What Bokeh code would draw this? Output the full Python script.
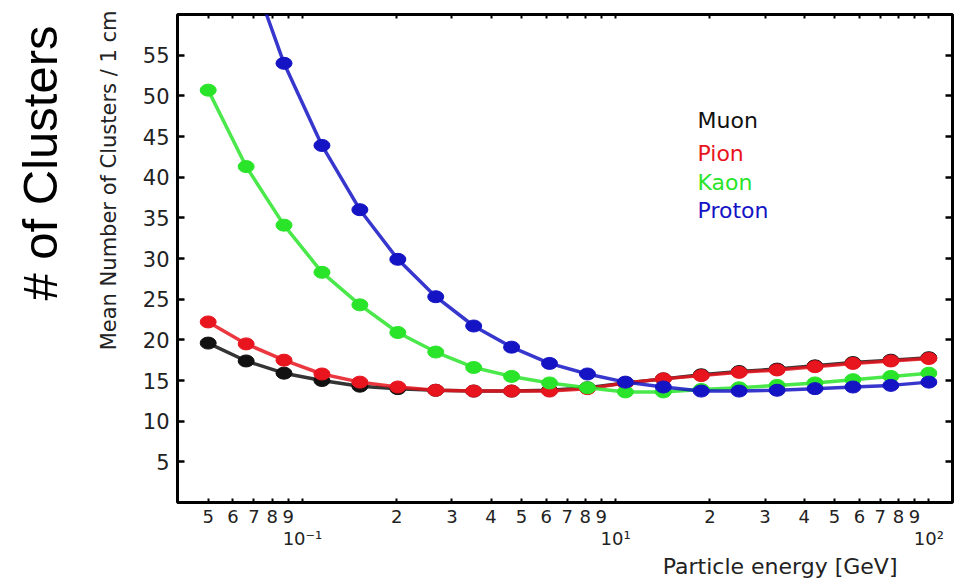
from bokeh.embed import file_html
from bokeh.models import FixedTicker, Label, LinearAxis, LogAxis, Title
from bokeh.plotting import figure
from bokeh.resources import INLINE

# Particle energy [GeV] sampled on an even log grid
energy = [0.05, 0.0661, 0.0873, 0.1154, 0.1525, 0.2016, 0.2664, 0.3521, 0.4653,
          0.6150, 0.8127, 1.074, 1.420, 1.876, 2.479, 3.277, 4.330, 5.723, 7.564, 10.0]

# Mean number of clusters per 1 cm for each particle species
muon = [19.6, 17.4, 15.9, 15.0, 14.3, 14.0, 13.8, 13.7, 13.7, 13.8,
        14.1, 14.7, 15.2, 15.7, 16.1, 16.4, 16.8, 17.2, 17.5, 17.8]
pion = [22.2, 19.5, 17.5, 15.8, 14.8, 14.2, 13.8, 13.7, 13.7, 13.7,
        14.0, 14.7, 15.2, 15.6, 16.0, 16.3, 16.7, 17.1, 17.4, 17.7]
kaon = [50.7, 41.3, 34.1, 28.3, 24.3, 20.9, 18.5, 16.6, 15.5, 14.7,
        14.1, 13.6, 13.6, 13.9, 14.1, 14.4, 14.7, 15.1, 15.5, 15.9]
proton = [86.0, 67.0, 54.0, 43.9, 36.0, 29.9, 25.3, 21.7, 19.1, 17.1,
          15.8, 14.8, 14.2, 13.7, 13.7, 13.8, 14.0, 14.2, 14.4, 14.8]

species = ["Muon", "Pion", "Kaon", "Proton"]
series = [muon, pion, kaon, proton]
colors = ["#111111", "#e8141e", "#2ae42a", "#1414c4"]

# Axis ticks and their printed labels
minor_ticks = [0.05, 0.06, 0.07, 0.08, 0.09,
               0.2, 0.3, 0.4, 0.5, 0.6, 0.7, 0.8, 0.9,
               2.0, 3.0, 4.0, 5.0, 6.0, 7.0, 8.0, 9.0]
minor_labels = ["5", "6", "7", "8", "9",
                "2", "3", "4", "5", "6", "7", "8", "9",
                "2", "3", "4", "5", "6", "7", "8", "9"]
decade_ticks = [0.1, 1.0, 10.0]
decade_labels = ["10\u207b\u00b9", "10\u00b9", "10\u00b2"]
y_ticks = [5, 10, 15, 20, 25, 30, 35, 40, 45, 50, 55]

FONT = "DejaVu Sans"
TEXT = "#222222"

p = figure(width=963, height=578, x_axis_type="log",
           x_range=(0.0399, 11.9), y_range=(0, 60),
           output_backend="svg", toolbar_location=None,
           min_border_left=177, min_border_right=11,
           min_border_top=14, min_border_bottom=74,
           x_axis_location=None, y_axis_location=None)
p.grid.visible = False
p.outline_line_color = "black"
p.outline_line_width = 3
p.background_fill_color = "white"
p.border_fill_color = "white"

all_ticks = sorted(minor_ticks + decade_ticks)

# Bottom axis, first row: digit labels for the in-decade ticks
bottom = LogAxis(ticker=FixedTicker(ticks=all_ticks, minor_ticks=[]))
overrides = {t: l for t, l in zip(minor_ticks, minor_labels)}
overrides.update({t: "" for t in decade_ticks})
bottom.major_label_overrides = overrides
bottom.major_tick_in = 4
bottom.major_tick_out = 0
bottom.major_tick_line_width = 2
bottom.major_label_standoff = 7
bottom.major_label_text_font = FONT
bottom.major_label_text_font_size = "18px"
bottom.major_label_text_color = TEXT
bottom.axis_line_color = None
p.add_layout(bottom, "below")

# Bottom axis, second row: decade labels
decades = LogAxis(ticker=FixedTicker(ticks=decade_ticks, minor_ticks=[]))
decades.major_label_overrides = {t: l for t, l in zip(decade_ticks, decade_labels)}
decades.major_tick_in = 0
decades.major_tick_out = 0
decades.major_label_standoff = 2
decades.major_label_text_font = FONT
decades.major_label_text_font_size = "18px"
decades.major_label_text_color = TEXT
decades.axis_line_color = None
p.add_layout(decades, "below")

# Mirrored ticks on top (no labels)
top = LogAxis(ticker=FixedTicker(ticks=all_ticks, minor_ticks=[]))
top.major_label_overrides = {t: "" for t in all_ticks}
top.major_tick_in = 4
top.major_tick_out = 0
top.major_tick_line_width = 2
top.major_label_standoff = 0
top.axis_line_color = None
p.add_layout(top, "above")

# Left value axis
left = LinearAxis(ticker=FixedTicker(ticks=y_ticks, minor_ticks=[]))
left.major_tick_in = 7
left.major_tick_out = 0
left.major_tick_line_width = 2.5
left.major_label_standoff = 8
left.major_label_text_font = FONT
left.major_label_text_font_size = "21px"
left.major_label_text_color = TEXT
left.axis_line_color = None
p.add_layout(left, "left")

# Mirrored ticks on the right (no labels)
right = LinearAxis(ticker=FixedTicker(ticks=y_ticks, minor_ticks=[]))
right.major_label_overrides = {t: "" for t in y_ticks}
right.major_tick_in = 7
right.major_tick_out = 0
right.major_tick_line_width = 2.5
right.major_label_standoff = 0
right.axis_line_color = None
p.add_layout(right, "right")

# Curves with markers
for vals, col in zip(series, colors):
    p.line(energy, vals, line_color=col, line_width=3.5, line_alpha=0.85)
    p.ellipse(x=energy, y=vals, width=16, height=12,
              width_units="screen", height_units="screen",
              fill_color=col, line_color=col, line_width=1)

# Coloured species names
legend_y = [382, 349, 320, 292]
for name, col, ys in zip(species, colors, legend_y):
    p.add_layout(Label(x=520, y=ys, x_units="screen", y_units="screen",
                       text=name, text_color=col, text_font=FONT,
                       text_font_size="22px", text_baseline="alphabetic"))

# Axis titles
p.add_layout(Title(text="Particle energy [GeV]", align="right", offset=55,
                   standoff=0, text_font=FONT, text_font_size="22px",
                   text_font_style="normal", text_color=TEXT), "below")
p.add_layout(Title(text="Mean Number of Clusters / 1 cm", align="right", offset=-4,
                   standoff=37, text_font=FONT, text_font_size="21px",
                   text_font_style="normal", text_color=TEXT), "left")
p.add_layout(Title(text="# of Clusters", align="right", offset=11,
                   standoff=20, text_font="Liberation Sans", text_font_size="49px",
                   text_font_style="normal", text_color="black"), "left")

open("out.html", "w").write(file_html(p, INLINE))
